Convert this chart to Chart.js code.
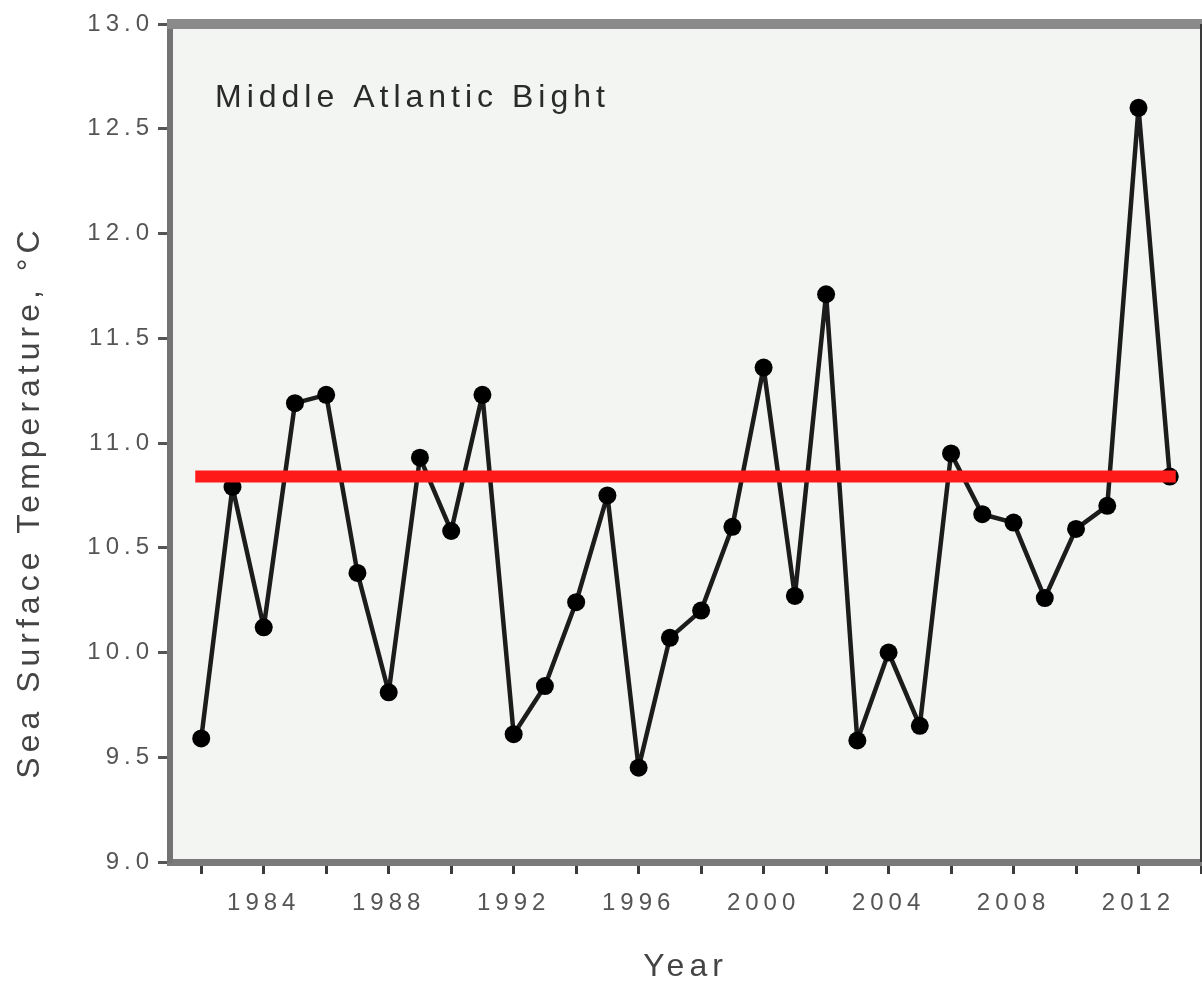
<!DOCTYPE html>
<html>
<head>
<meta charset="utf-8">
<title>Middle Atlantic Bight SST</title>
<script src="https://cdn.jsdelivr.net/npm/chart.js@4.4.1/dist/chart.umd.min.js"></script>
<style>
  html, body { margin: 0; padding: 0; background: #fff; overflow: hidden; }
</style>
</head>
<body>
<canvas id="sstChart" width="1202" height="991"></canvas>
<script>
/************** DATA **************/
const years = [
  1982, 1983, 1984, 1985, 1986, 1987, 1988, 1989, 1990, 1991,
  1992, 1993, 1994, 1995, 1996, 1997, 1998, 1999, 2000, 2001,
  2002, 2003, 2004, 2005, 2006, 2007, 2008, 2009, 2010, 2011,
  2012, 2013
];
const sst = [
  9.59, 10.79, 10.12, 11.19, 11.23, 10.38, 9.81, 10.93, 10.58, 11.23,
  9.61, 9.84, 10.24, 10.75, 9.45, 10.07, 10.20, 10.60, 11.36, 10.27,
  11.71, 9.58, 10.00, 9.65, 10.95, 10.66, 10.62, 10.26, 10.59, 10.70,
  12.60, 10.84
];
const meanSst = 10.84;
const meanYears = [1982, 2013];

const yMin = 9, yMax = 13, yStep = 0.5;
const xMin = 1981, xMax = 2014, xStep = 2, xLabelEvery = 4;

const regionLabel = "Middle Atlantic Bight";
const yTitle = "Sea Surface Temperature, °C";
const xTitle = "Year";

/************** PLUGINS **************/
const FONT = "'Liberation Sans', Arial, sans-serif";

// fond, cadre et textes libres
const frame = {
  id: "frame",
  beforeDraw(chart) {
    const { ctx, chartArea: a } = chart;
    ctx.letterSpacing = "5px";
    ctx.save();
    ctx.fillStyle = "#f3f5f2";
    ctx.fillRect(a.left, a.top, a.right - a.left, a.bottom - a.top);
    ctx.restore();
  },
  afterDraw(chart) {
    const { ctx, chartArea: a } = chart;
    ctx.save();
    ctx.strokeStyle = "#8a8a8a";
    ctx.lineWidth = 10;
    ctx.beginPath();
    ctx.moveTo(a.left - 3, a.top);
    ctx.lineTo(a.right + 1, a.top);
    ctx.stroke();

    ctx.strokeStyle = "#3a3a3a";
    ctx.lineWidth = 2;
    ctx.beginPath();
    ctx.moveTo(a.right, a.top);
    ctx.lineTo(a.right, a.bottom);
    ctx.stroke();

    ctx.fillStyle = "#2a2a2a";
    ctx.font = "32px " + FONT;
    ctx.textAlign = "left";
    ctx.textBaseline = "alphabetic";
    ctx.fillText(regionLabel, a.left + 45, a.top + 83);

    ctx.translate(30, 502);
    ctx.rotate(-Math.PI / 2);
    ctx.fillStyle = "#444";
    ctx.textAlign = "center";
    ctx.textBaseline = "middle";
    ctx.fillText(yTitle, 0, 0);
    ctx.restore();
  }
};

/************** CHART **************/
const ctx = document.getElementById("sstChart").getContext("2d");

const sstChart = new Chart(ctx, {
  type: "line",
  data: {
    datasets: [{
      label: "mean",
      data: meanYears.map(y => ({ x: y, y: meanSst })),
      borderColor: "#ff1a1a",
      borderWidth: 12,
      borderCapStyle: "square",
      pointRadius: 0
    }, {
      label: "SST",
      data: years.map((y, i) => ({ x: y, y: sst[i] })),
      borderColor: "#1c1c1c",
      borderWidth: 4.5,
      borderJoinStyle: "round",
      tension: 0,
      pointRadius: 9,
      pointBackgroundColor: "#000",
      pointBorderWidth: 0
    }]
  },
  options: {
    responsive: false,
    animation: false,
    events: [],
    layout: {
      autoPadding: false,
      padding: { top: 24, right: 1, left: 0, bottom: 0 }
    },
    plugins: {
      legend: { display: false },
      tooltip: { enabled: false }
    },
    scales: {
      x: {
        type: "linear",
        min: xMin,
        max: xMax,
        afterFit: s => {
          s.height = 129;
          s.paddingLeft = 0;
          s.paddingRight = 0;
        },
        border: { color: "#7a7a7a", width: 7 },
        grid: {
          drawOnChartArea: false,
          tickLength: 12,
          tickWidth: 3,
          tickColor: "#3c3c3c"
        },
        ticks: {
          stepSize: xStep,
          includeBounds: false,
          autoSkip: false,
          maxRotation: 0,
          padding: 15,
          color: "#555",
          font: { family: FONT, size: 24 },
          callback: v => (v % xLabelEvery === 0 ? String(v) : "")
        },
        title: {
          display: true,
          text: xTitle,
          color: "#444",
          font: { family: FONT, size: 32 },
          padding: { top: 0, bottom: 5 }
        }
      },
      y: {
        min: yMin,
        max: yMax,
        afterFit: s => { s.width = 170; },
        border: { color: "#737373", width: 6 },
        grid: {
          drawOnChartArea: false,
          tickLength: 12,
          tickWidth: 3,
          tickColor: "#555"
        },
        ticks: {
          stepSize: yStep,
          padding: 4,
          color: "#555",
          font: { family: FONT, size: 24 },
          callback: v => v.toFixed(1)
        }
      }
    }
  },
  plugins: [frame]
});
</script>
</body>
</html>
